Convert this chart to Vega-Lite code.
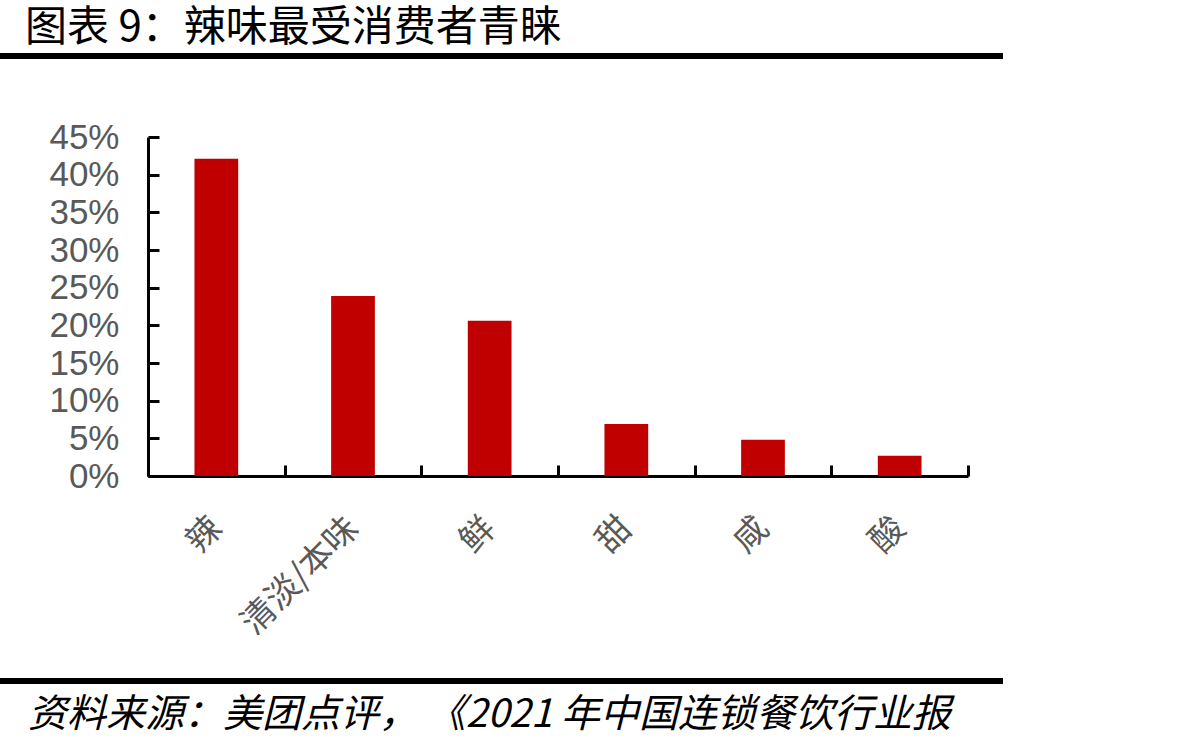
{
  "$schema": "https://vega.github.io/schema/vega-lite/v6.json",
  "padding": {"left": -13, "top": 7, "right": 0, "bottom": 6},
  "background": "white",
  "config": {"view": {"stroke": null}},
  "spacing": 61,
  "vconcat": [
    {
      "width": 1003,
      "height": 6,
      "data": {"values": [{}]},
      "mark": {"type": "rect", "color": "black"},
      "title": {"text": "图表 9：辣味最受消费者青睐", "anchor": "start", "dx": 25, "fontSize": 42, "font": "Noto Sans CJK SC", "fontWeight": "normal", "color": "black", "offset": 3}
    },
    {
      "spacing": 37,
      "vconcat": [
        {
          "width": 1003,
          "height": 339,
          "data": {"values": [
            {"flavor": "辣", "share": 0.421},
            {"flavor": "清淡/本味", "share": 0.239},
            {"flavor": "鲜", "share": 0.206},
            {"flavor": "甜", "share": 0.069},
            {"flavor": "咸", "share": 0.048},
            {"flavor": "酸", "share": 0.027}
          ]},
          "mark": {"type": "bar", "color": "#C00000", "width": {"band": 0.32}},
          "encoding": {
            "x": {
              "field": "flavor", "type": "nominal", "sort": null,
              "scale": {"paddingInner": 0, "paddingOuter": 0, "range": [148, 968]},
              "axis": {"title": null, "labelAngle": -45, "labelAlign": "right", "labelBaseline": "middle", "labelFontSize": 34, "labelFont": "Noto Sans CJK SC", "labelColor": "#595959", "labelPadding": 58, "tickBand": "extent", "tickSize": -11, "tickWidth": 3, "tickColor": "black", "domainColor": "black", "domainWidth": 3}
            },
            "y": {
              "field": "share", "type": "quantitative",
              "scale": {"domain": [0, 0.45], "nice": false},
              "axis": {"title": null, "offset": -148, "values": [0, 0.05, 0.1, 0.15, 0.2, 0.25, 0.3, 0.35, 0.4, 0.45], "format": ".0%", "labelFontSize": 35, "labelFont": "Liberation Sans", "labelColor": "#595959", "labelPadding": 40, "tickSize": -11, "tickWidth": 3, "tickColor": "black", "domainColor": "black", "domainWidth": 3, "grid": false, "labelOverlap": false, "labelFlush": false}
            }
          }
        },
        {
          "width": 1003,
          "height": 6,
          "data": {"values": [{}]},
          "mark": {"type": "rect", "color": "black"},
          "title": {"text": "资料来源：美团点评， 《2021 年中国连锁餐饮行业报", "orient": "bottom", "anchor": "start", "dx": 28, "fontSize": 39, "fontStyle": "italic", "font": "Noto Sans CJK SC", "fontWeight": "normal", "color": "black", "offset": 12}
        }
      ]
    }
  ]
}
